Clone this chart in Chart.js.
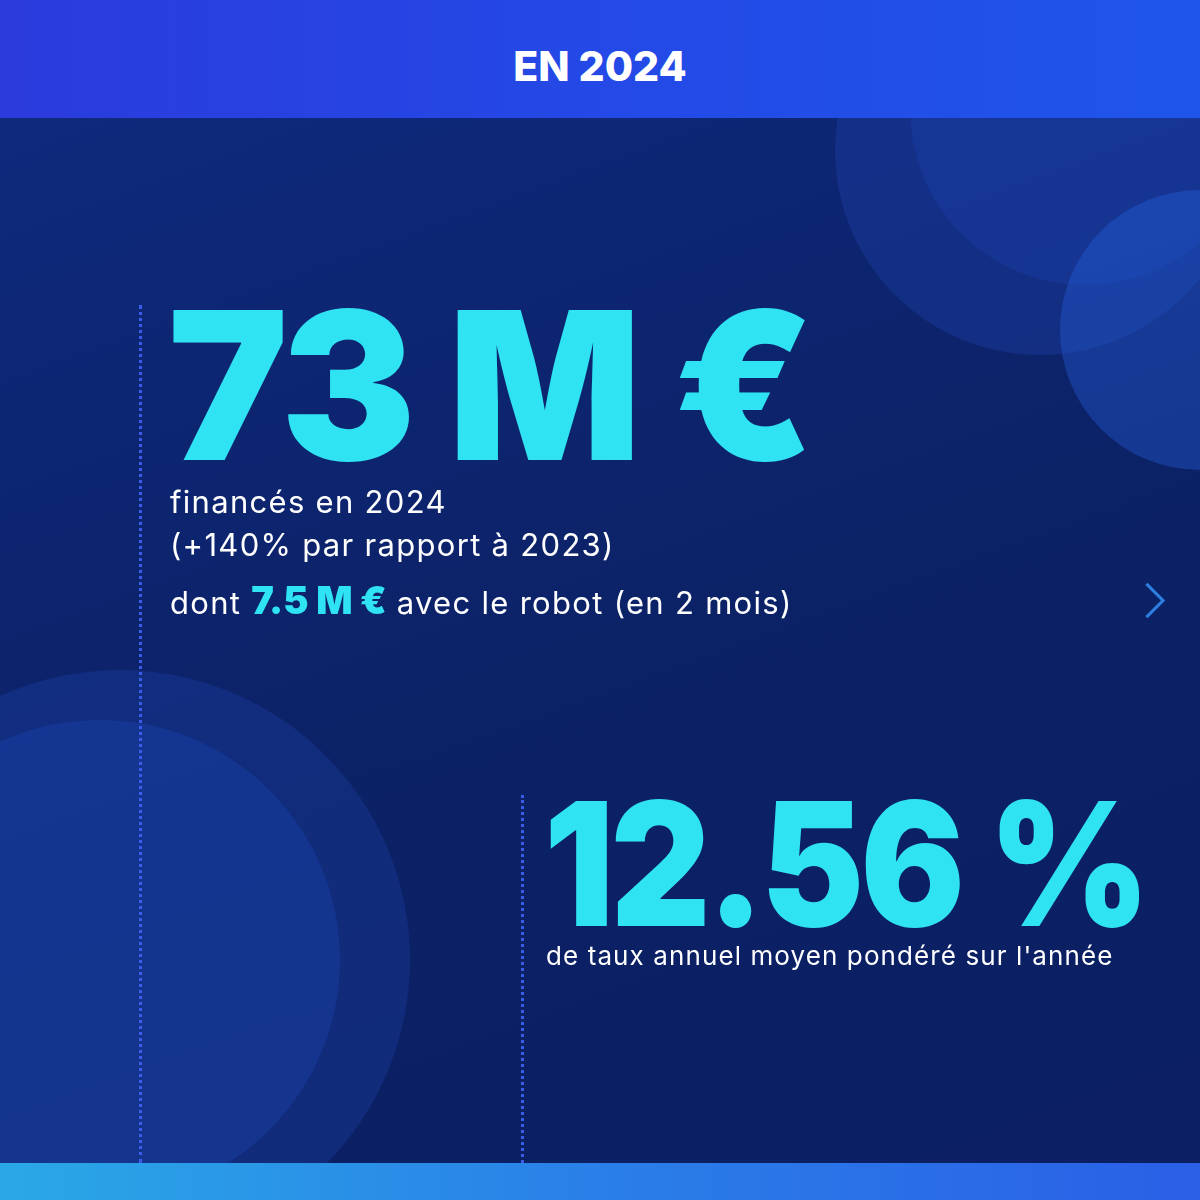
<!DOCTYPE html>
<html><head><meta charset="utf-8">
<script src="https://cdn.jsdelivr.net/npm/chart.js@4/dist/chart.umd.min.js"></script>
<style>
html,body{margin:0;padding:0;width:1200px;height:1200px;overflow:hidden;background:#0e2470}
#wrap{position:absolute;left:0;top:0;width:1200px;height:1200px;background:linear-gradient(160deg,#0f2a80 0%,#0c2266 55%,#0b1f62 100%)}
#c{position:absolute;left:0;top:0}
.hdr{position:absolute;left:0;top:0;width:1200px;height:118px;background:linear-gradient(90deg,#2b3bdc,#2449e6 50%,#1f55ea);color:#fff;font:800 41px Inter,sans-serif;text-align:center;line-height:132px}
.ftr{position:absolute;left:0;top:1163px;width:1200px;height:37px;background:linear-gradient(90deg,#2aa8e6,#2a7fe8 50%,#2a5fe6)}
.dot{position:absolute;width:0;border-left:3px dotted #3b5ce8}
.big{position:absolute;color:#2fe3f2;font-family:Inter,sans-serif;font-weight:900;white-space:nowrap;line-height:1;transform-origin:0 0}
.txt{position:absolute;color:#fff;font-family:Inter,sans-serif;font-size:31px;white-space:nowrap;line-height:1;letter-spacing:1.3px}
.cy{color:#2fe3f2;font-family:Inter,sans-serif;font-weight:900;font-size:38px;letter-spacing:0}
.chev{position:absolute;left:1135px;top:588px;width:22px;height:22px;border-right:3px solid #2c7fe0;border-top:3px solid #2c7fe0;transform:rotate(45deg)}
</style></head><body>
<div id="wrap">
<canvas id="c" width="1200" height="1200"></canvas>
<div class="hdr">EN 2024</div>
<div class="dot" style="left:139px;top:305px;height:858px"></div>
<div class="dot" style="left:521px;top:795px;height:368px"></div>
<div class="big" style="left:168px;top:282px;font-size:206px;letter-spacing:-4px;transform:scaleX(0.98)">73 M €</div>
<div class="txt" style="left:170px;top:486px">financés en 2024</div>
<div class="txt" style="left:170px;top:529px">(+140% par rapport à 2023)</div>
<div class="txt" style="left:170px;top:581px">dont <span class="cy">7.5 M €</span> avec le robot (en 2 mois)</div>
<div class="chev"></div>
<div class="big" style="left:544px;top:777px;font-size:172px;letter-spacing:-4px;transform:scaleX(0.9)">12.56 %</div>
<div class="txt" style="left:546px;top:943px;font-size:26px;letter-spacing:1.1px">de taux annuel moyen pondéré sur l'année</div>
<div class="ftr"></div>
</div>
<script>
const circleX=[1040,1085,1200,120,100];
const circleY=[150,110,330,960,960];
const circleR=[205,175,140,290,240];
const circleColor=['rgba(40,80,200,0.25)','rgba(30,70,190,0.25)','rgba(40,100,230,0.35)','rgba(35,75,190,0.25)','rgba(30,80,200,0.25)'];
new Chart(document.getElementById('c'),{
 type:'scatter',
 data:{datasets:[{data:circleX.map((x,i)=>({x:x,y:circleY[i]})),pointRadius:circleR,backgroundColor:circleColor,borderWidth:0,clip:false}]},
 options:{responsive:false,animation:false,events:[],layout:{padding:0,autoPadding:false},
  plugins:{legend:{display:false},tooltip:{enabled:false}},
  scales:{x:{type:'linear',min:0,max:1200,display:false},y:{type:'linear',min:0,max:1200,reverse:true,display:false}}}
});
</script>
</body></html>
